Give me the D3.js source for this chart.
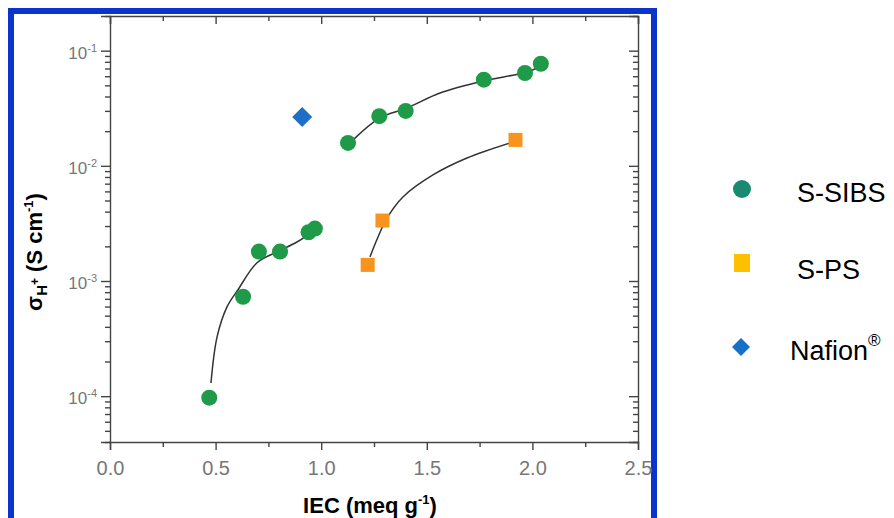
<!DOCTYPE html>
<html>
<head>
<meta charset="utf-8">
<script src="https://cdn.jsdelivr.net/npm/d3@7"></script>
<style>
  body { margin: 0; background: #fff; }
  svg { display: block; font-family: Arial, "Liberation Sans", sans-serif; }
  .axis path, .axis line { stroke: #444; stroke-width: 1.4; }
</style>
</head>
<body>
<div class="chart"></div>
<script>
// S-SIBS measured points (IEC, conductivity)
var sibsIEC = [0.47, 0.63, 0.705, 0.805, 0.94, 0.97, 1.127, 1.275, 1.40, 1.77, 1.965, 2.04];
var sibsSigma = [9.7e-5, 7.3e-4, 1.8e-3, 1.8e-3, 2.65e-3, 2.85e-3, 1.58e-2, 2.7e-2, 3.0e-2, 5.6e-2, 6.4e-2, 7.7e-2];
// S-PS points
var psIEC = [1.22, 1.29, 1.92];
var psSigma = [1.38e-3, 3.35e-3, 1.68e-2];
// Nafion point
var nafIEC = [0.91];
var nafSigma = [2.66e-2];

// fit curves
var fitLowIEC = [0.478, 0.507, 0.554, 0.606, 0.696, 0.791, 0.885, 0.971];
var fitLowSigma = [1.3e-4, 3.27e-4, 5.96e-4, 8.4e-4, 1.44e-3, 1.79e-3, 2.18e-3, 2.77e-3];
var fitHighIEC = [1.151, 1.278, 1.406, 1.5625, 1.766, 1.974, 2.05];
var fitHighSigma = [0.0168, 0.0261, 0.0318, 0.0429, 0.0546, 0.0653, 0.0751];
var fitPsIEC = [1.231, 1.269, 1.312, 1.387, 1.529, 1.690, 1.908];
var fitPsSigma = [1.62e-3, 2.41e-3, 3.53e-3, 5.37e-3, 8.34e-3, 0.0117, 0.0161];

var xMajor = [0, 0.5, 1.0, 1.5, 2.0, 2.5];
var xMinor = [0.25, 0.75, 1.25, 1.75, 2.25];
var yMajor = [1e-4, 1e-3, 1e-2, 1e-1];
var yExp = ["-4", "-3", "-2", "-1"];

var legendNames = ["S-SIBS", "S-PS", "Nafion"];

var svgWidth = 894, svgHeight = 518;
var margin = {top: 16, left: 110, right: 256, bottom: 76};
var width = svgWidth - margin.left - margin.right;
var height = svgHeight - margin.top - margin.bottom;

var svg = d3.select(".chart").append("svg")
  .attr("width", svgWidth)
  .attr("height", svgHeight);

svg.append("rect").attr("width", svgWidth).attr("height", svgHeight).attr("fill", "#fff");

// blue frame
svg.append("rect")
  .attr("x", 11).attr("y", 11)
  .attr("width", 643).attr("height", 530)
  .attr("fill", "none")
  .attr("stroke", "#0a34cc")
  .attr("stroke-width", 6);

var g = svg.append("g").attr("transform", `translate(${margin.left}, ${margin.top})`);

var x = d3.scaleLinear().domain([0, 2.5]).range([0, width]);
var y = d3.scaleLog().domain([4e-5, 0.2]).range([height, 0]);

var yMinor = y.ticks().filter(v => yMajor.indexOf(v) < 0);

// bottom axis (outward ticks)
g.append("g").attr("class", "axis").attr("transform", `translate(0, ${height})`)
  .call(d3.axisBottom(x).tickValues(xMajor).tickSize(8).tickFormat(d3.format(".1f")))
  .call(a => a.selectAll("text").attr("fill", "#777").style("font-size", "20px").attr("dy", "1.1em"));
g.append("g").attr("class", "axis").attr("transform", `translate(0, ${height})`)
  .call(d3.axisBottom(x).tickValues(xMinor).tickSize(5).tickFormat(""))
  .call(a => a.select(".domain").remove());

// top axis (inward ticks)
g.append("g").attr("class", "axis")
  .call(d3.axisBottom(x).tickValues(xMajor).tickSize(8).tickFormat(""));
g.append("g").attr("class", "axis")
  .call(d3.axisBottom(x).tickValues(xMinor).tickSize(5).tickFormat(""))
  .call(a => a.select(".domain").remove());

// left axis
g.append("g").attr("class", "axis")
  .call(d3.axisLeft(y).tickValues(yMajor).tickSize(9).tickFormat(""));
g.append("g").attr("class", "axis")
  .call(d3.axisLeft(y).tickValues(yMinor).tickSize(5).tickFormat(""))
  .call(a => a.select(".domain").remove());

// right axis (ticks point into the plot)
g.append("g").attr("class", "axis").attr("transform", `translate(${width}, 0)`)
  .call(d3.axisLeft(y).tickValues(yMajor).tickSize(9).tickFormat(""));
g.append("g").attr("class", "axis").attr("transform", `translate(${width}, 0)`)
  .call(d3.axisLeft(y).tickValues(yMinor).tickSize(5).tickFormat(""))
  .call(a => a.select(".domain").remove());

// y tick labels 10^n
yMajor.forEach((v, i) => {
  var t = g.append("text")
    .attr("x", -13)
    .attr("y", y(v) + 8)
    .attr("text-anchor", "end")
    .attr("fill", "#777")
    .style("font-size", "17px");
  t.append("tspan").text("10");
  t.append("tspan").attr("dy", -7).style("font-size", "11px").text(yExp[i]);
});

// fit lines
var line = d3.line().x(d => x(d[0])).y(d => y(d[1])).curve(d3.curveCatmullRom.alpha(0.5));
[[fitLowIEC, fitLowSigma], [fitHighIEC, fitHighSigma], [fitPsIEC, fitPsSigma]].forEach(f => {
  g.append("path")
    .datum(f[0].map((v, i) => [v, f[1][i]]))
    .attr("d", line)
    .attr("fill", "none")
    .attr("stroke", "#333")
    .attr("stroke-width", 1.5);
});

// markers
g.selectAll(".sibs").data(sibsIEC.map((v, i) => [v, sibsSigma[i]])).enter()
  .append("circle")
  .attr("cx", d => x(d[0]))
  .attr("cy", d => y(d[1]))
  .attr("r", 8)
  .attr("fill", "#1f9a48");

g.selectAll(".ps").data(psIEC.map((v, i) => [v, psSigma[i]])).enter()
  .append("rect")
  .attr("x", d => x(d[0]) - 7)
  .attr("y", d => y(d[1]) - 7)
  .attr("width", 14).attr("height", 14)
  .attr("fill", "#f7941d");

g.selectAll(".naf").data(nafIEC.map((v, i) => [v, nafSigma[i]])).enter()
  .append("path")
  .attr("transform", d => `translate(${x(d[0])}, ${y(d[1])})`)
  .attr("d", "M0,-10L10,0L0,10L-10,0Z")
  .attr("fill", "#1f6fc8");

// axis titles
svg.append("text")
  .attr("x", 370).attr("y", 513)
  .attr("text-anchor", "middle")
  .style("font-size", "22px").style("font-weight", "bold")
  .call(t => {
    t.append("tspan").text("IEC (meq g");
    t.append("tspan").attr("dy", -9).style("font-size", "13px").text("-1");
    t.append("tspan").attr("dy", 9).text(")");
  });

svg.append("text")
  .attr("transform", "translate(42, 252) rotate(-90)")
  .attr("text-anchor", "middle")
  .style("font-size", "22px").style("font-weight", "bold")
  .call(t => {
    t.append("tspan").text("\u03c3");
    t.append("tspan").attr("dy", 5).style("font-size", "15px").text("H");
    t.append("tspan").attr("dy", -8).style("font-size", "12px").text("+");
    t.append("tspan").attr("dy", 3).text(" (S cm");
    t.append("tspan").attr("dy", -9).style("font-size", "13px").text("-1");
    t.append("tspan").attr("dy", 9).text(")");
  });

// legend
var lg = svg.append("g");
lg.append("circle").attr("cx", 742).attr("cy", 189).attr("r", 9).attr("fill", "#178a70");
lg.append("rect").attr("x", 734).attr("y", 254).attr("width", 16).attr("height", 18).attr("fill", "#ffc000");
lg.append("path").attr("transform", "translate(741, 347)").attr("d", "M0,-9L9,0L0,9L-9,0Z").attr("fill", "#1570c8");

lg.append("text").attr("x", 797).attr("y", 202).style("font-size", "27px").text(legendNames[0]);
lg.append("text").attr("x", 797).attr("y", 279).style("font-size", "27px").text(legendNames[1]);
lg.append("text").attr("x", 790).attr("y", 360).style("font-size", "27px")
  .call(t => {
    t.append("tspan").text(legendNames[2]);
    t.append("tspan").attr("dy", -14).style("font-size", "17px").text("\u00ae");
  });
</script>
</body>
</html>
